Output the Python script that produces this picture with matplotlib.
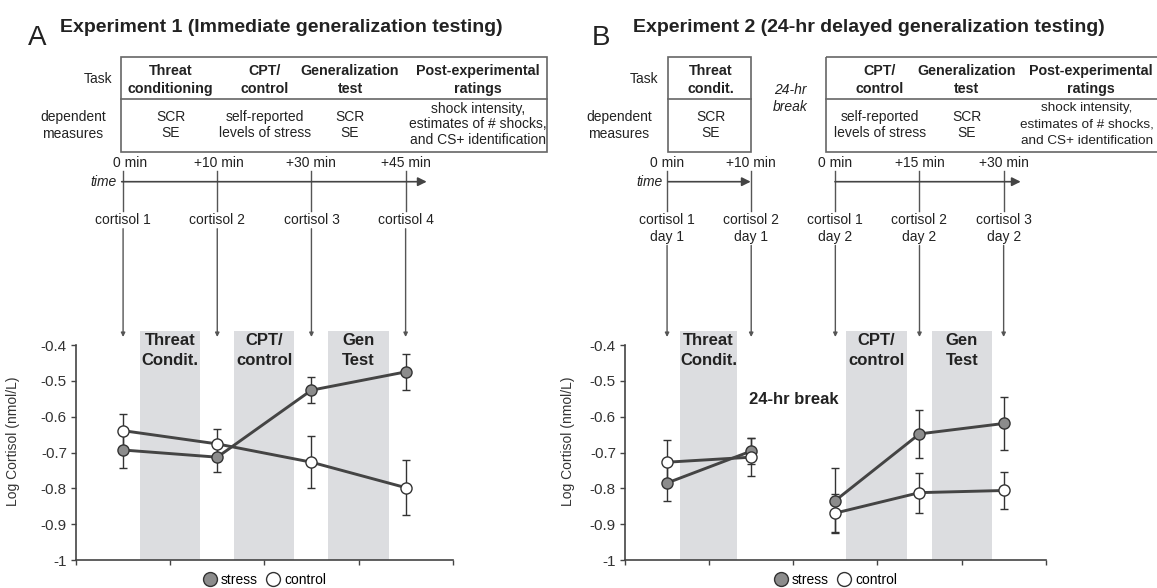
import matplotlib
matplotlib.use('Agg')
import matplotlib.pyplot as plt
from matplotlib.lines import Line2D
from matplotlib.patches import Rectangle
from matplotlib.transforms import blended_transform_factory

plt.rcParams['font.family'] = ['Liberation Sans', 'DejaVu Sans']
plt.rcParams['axes.unicode_minus'] = False

# ---- data (log cortisol, nmol/L) ----
x_a = [0.5, 1.5, 2.5, 3.5]
stress_a = [-0.693, -0.713, -0.526, -0.475]
stress_a_err = [0.051, 0.041, 0.037, 0.050]
control_a = [-0.639, -0.676, -0.727, -0.798]
control_a_err = [0.046, 0.042, 0.072, 0.076]

x_b = [0.5, 1.5, 2.5, 3.5, 4.5]
stress_b = [-0.785, -0.696, -0.834, -0.648, -0.619]
stress_b_err = [0.050, 0.036, 0.092, 0.066, 0.075]
control_b = [-0.727, -0.713, -0.869, -0.812, -0.806]
control_b_err = [0.062, 0.053, 0.052, 0.056, 0.053]
segments_a = [[0, 1, 2, 3]]
segments_b = [[0, 1], [2, 3, 4]]

bands_a = [(0.68, 1.32), (1.68, 2.32), (2.68, 3.32)]
bands_b = [(0.655, 1.33), (2.63, 3.35), (3.65, 4.36)]
band_labels = ['Threat\nCondit.', 'CPT/\ncontrol', 'Gen\nTest']

yticks = [-1, -0.9, -0.8, -0.7, -0.6, -0.5, -0.4]
ytick_labels = ['-1', '-0.9', '-0.8', '-0.7', '-0.6', '-0.5', '-0.4']

times_a = ['0 min', '+10 min', '+30 min', '+45 min']
cortisol_a = ['cortisol 1', 'cortisol 2', 'cortisol 3', 'cortisol 4']
times_b = ['0 min', '+10 min', '0 min', '+15 min', '+30 min']
cortisol_b = ['cortisol 1\nday 1', 'cortisol 2\nday 1', 'cortisol 1\nday 2',
              'cortisol 2\nday 2', 'cortisol 3\nday 2']

tasks_a = ['Threat\nconditioning', 'CPT/\ncontrol', 'Generalization\ntest',
           'Post-experimental\nratings']
measures_a = ['SCR\nSE', 'self-reported\nlevels of stress', 'SCR\nSE',
              'shock intensity,\nestimates of # shocks,\nand CS+ identification']
tasks_b = ['Threat\ncondit.', 'CPT/\ncontrol', 'Generalization\ntest',
           'Post-experimental\nratings']
measures_b = measures_a

ink = '#222222'
line_c = '#444444'
W, H = 1157, 588

fig = plt.figure(figsize=(W / 100, H / 100), dpi=100)


def px_axes(l, r, b, t):
    return fig.add_axes([l / W, 1 - b / H, (r - l) / W, (b - t) / H])


def draw_chart(ax, x, stress, s_err, control, c_err, segments, bands, xmax, lab_x):
    for (x0, x1), lab in zip(bands, band_labels):
        ax.axvspan(x0, x1, color='#dcdde0', lw=0, zorder=0)
        for k, line in enumerate(lab.split('\n')):
            ax.text((x0 + x1) / 2, -0.386 - 0.056 * k, line, ha='center', va='center',
                    fontsize=12, fontweight='bold', color=ink, zorder=1)
    ax.errorbar(x, stress, yerr=s_err, fmt='none', ecolor='#333333', elinewidth=1,
                capsize=3, capthick=1, zorder=2)
    ax.errorbar(x, control, yerr=c_err, fmt='none', ecolor='#333333', elinewidth=1,
                capsize=3, capthick=1, zorder=2)
    for seg in segments:
        ax.plot([x[i] for i in seg], [stress[i] for i in seg], color=line_c, lw=2.1, zorder=3)
        ax.plot([x[i] for i in seg], [control[i] for i in seg], color=line_c, lw=2.1, zorder=3)
    ax.plot(x, stress, 'o', ls='none', ms=8, mfc='#8c8c8c', mec='#333333', mew=1, zorder=4)
    ax.plot(x, control, 'o', ls='none', ms=8, mfc='white', mec='#333333', mew=1, zorder=5)

    ax.set_xlim(0, xmax)
    ax.set_ylim(-1, -0.36)
    ax.set_yticks(yticks, ytick_labels)
    ax.set_xticks(range(xmax + 1), [])
    for s in ['top', 'right']:
        ax.spines[s].set_visible(False)
    for s in ['left', 'bottom']:
        ax.spines[s].set_color(line_c)
        ax.spines[s].set_linewidth(1.2)
    ax.spines['left'].set_bounds(-1, -0.4)
    ax.tick_params(direction='out', length=3.5, width=1, color=line_c,
                   labelsize=11, labelcolor='#333333', pad=3)
    ax.set_ylabel('Log Cortisol (nmol/L)', fontsize=10, color='#333333')
    ax.yaxis.set_label_coords(lab_x, 0.52)

    handles = [Line2D([], [], marker='o', ls='none', ms=10, mfc='#8c8c8c', mec='#333333'),
               Line2D([], [], marker='o', ls='none', ms=10, mfc='white', mec='#333333')]
    ax.legend(handles, ['stress', 'control'], ncol=2, loc='center',
              bbox_to_anchor=(0.5, -0.087), frameon=False, fontsize=10,
              handletextpad=0.3, columnspacing=0.6, handlelength=1.0, borderaxespad=0)


ax_a = px_axes(76, 452.7, 560, 330.7)
ax_b = px_axes(625, 1045.7, 560, 330.7)
draw_chart(ax_a, x_a, stress_a, stress_a_err, control_a, control_a_err,
           segments_a, bands_a, 4, -0.149)
draw_chart(ax_b, x_b, stress_b, stress_b_err, control_b, control_b_err,
           segments_b, bands_b, 5, -0.119)
ax_b.text(2.0, -0.551, '24-hr break', ha='center', va='center', fontsize=12,
          fontweight='bold', color=ink)

# ---- schematic overlay in pixel coordinates ----
over = fig.add_axes([0, 0, 1, 1])
over.set_xlim(0, W)
over.set_ylim(H, 0)
over.axis('off')


def stack(x, y, text, dy, **kw):
    for k, line in enumerate(text.split('\n')):
        over.text(x, y + k * dy, line, ha='center', va='center', color=ink, **kw)


def table(x0, x1):
    over.add_patch(Rectangle((x0, 57.3), x1 - x0, 94.5, fill=False, ec='#666666', lw=1.2))
    over.plot([x0, x1], [99.3, 99.3], color='#666666', lw=1.2)


def timeline(ax, xs_data, labels, cortisol, offsets, arrows):
    tr = blended_transform_factory(ax.transData, over.transData)
    for k, (t, c) in enumerate(zip(labels, cortisol)):
        xk = xs_data[k]
        over.annotate(t, xy=(xk, 163.3), xycoords=tr, xytext=(offsets[k], 0),
                      textcoords='offset points', ha='center', va='center',
                      fontsize=10, color=ink)
        n = len(c.split('\n'))
        for j, line in enumerate(c.split('\n')):
            over.text(xk, 220 + 16.7 * j, line, transform=tr, ha='center', va='center',
                      fontsize=10, color=ink)
        over.plot([xk, xk], [170.7, 211], transform=tr, color='#555555', lw=1)
        over.annotate('', xy=(xk, 337), xycoords=tr, xytext=(xk, 212 + 16.7 * n),
                      textcoords=tr,
                      arrowprops=dict(arrowstyle='-|>', color='#555555', lw=1,
                                      mutation_scale=6, shrinkA=0, shrinkB=0))
    for xs, xe in arrows:
        over.annotate('', xy=(xe, 181.7), xytext=(xs, 181.7),
                      arrowprops=dict(arrowstyle='-|>', color=line_c, lw=1.2,
                                      mutation_scale=13, shrinkA=0, shrinkB=0))


hb = dict(fontsize=10.3, fontweight='bold')
hr = dict(fontsize=10)

# panel A
over.text(37, 45, 'A', fontsize=20, ha='center', va='baseline', color=ink)
over.text(60, 31.7, 'Experiment 1 (Immediate generalization testing)', fontsize=14,
          fontweight='bold', ha='left', va='baseline', color=ink)
table(120.7, 547.3)
over.text(112.7, 79, 'Task', ha='right', va='center', color=ink, **hr)
stack(73, 116.7, 'dependent\nmeasures', 17.6, **hr)
for xc, t, m in zip([170.7, 265, 350, 478], tasks_a, measures_a):
    stack(xc, 71, t, 18.3, **hb)
    n = len(m.split('\n'))
    stack(xc, 116.7 if n == 2 else 108.5, m, 16, **hr)
over.text(117, 182, 'time', ha='right', va='center', style='italic', color=ink, **hr)
timeline(ax_a, x_a, times_a, cortisol_a, [5, 1, 0, 0], [(121.7, 426.7)])

# panel B
over.text(601, 45, 'B', fontsize=20, ha='center', va='baseline', color=ink)
over.text(633.3, 31.7, 'Experiment 2 (24-hr delayed generalization testing)', fontsize=14,
          fontweight='bold', ha='left', va='baseline', color=ink)
table(667.7, 750.7)
table(825.7, 1170)
over.text(658.3, 79, 'Task', ha='right', va='center', color=ink, **hr)
stack(619, 116.7, 'dependent\nmeasures', 17.6, **hr)
for xc, t, m in zip([710.7, 880, 966.6, 1091], tasks_b, measures_b):
    stack(xc, 71, t, 18.3, **hb)
    n = len(m.split('\n'))
    if n == 3:
        stack(1087, 108.5, m, 16, fontsize=9.7)
    else:
        stack(xc, 116.7, m, 16, **hr)
stack(790, 90, '24-hr\nbreak', 16.7, style='italic', **hr)
over.text(662.7, 182, 'time', ha='right', va='center', style='italic', color=ink, **hr)
timeline(ax_b, x_b, times_b, cortisol_b, [0, 0, 0, 0, 0], [(668.3, 750.7), (835, 1020.7)])

fig.savefig('out.png', dpi=100)
